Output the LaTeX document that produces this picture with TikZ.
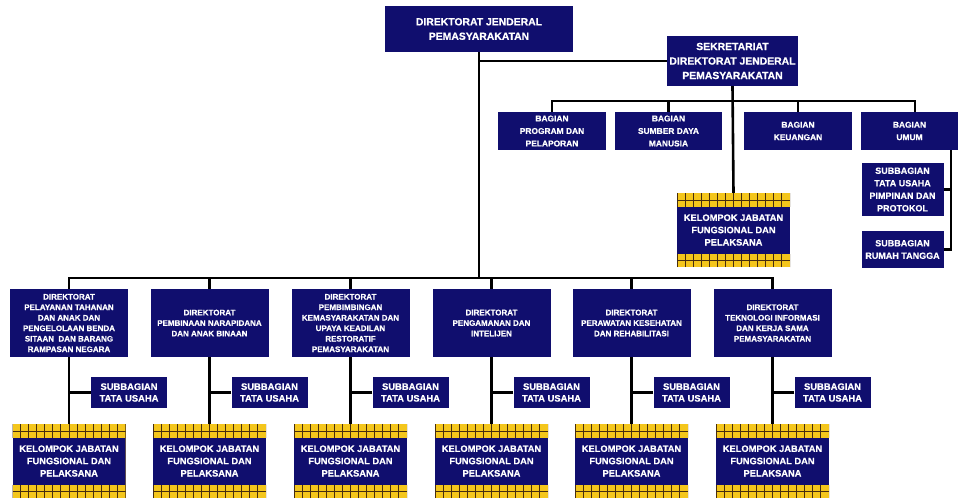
\documentclass[tikz,border=0pt]{standalone}
\usepackage{fontspec}
\setmainfont{Liberation Sans}[BoldFont={Liberation Sans Bold}, BoldFeatures={FakeBold=0.6}]
\usetikzlibrary{calc}
\definecolor{navy}{RGB}{16,14,110}
\definecolor{kyellow}{RGB}{244,198,28}
\definecolor{kline}{RGB}{70,45,15}
\tikzset{
  conn/.style={line width=2.6pt, black},
  navybox/.style={fill=navy, text=white, align=center, inner sep=0pt, font=\bfseries},
  topbox/.style={navybox, font=\fontsize{10.4}{14.5}\selectfont\bfseries},
  bagbox/.style={navybox, minimum width=108pt, minimum height=38pt, font=\fontsize{8.4}{12.5}\selectfont\bfseries},
  umsub/.style={navybox, minimum width=82pt, font=\fontsize{9}{12.5}\selectfont\bfseries},
  dirbox/.style={navybox, minimum width=118pt, minimum height=68pt, font=\fontsize{8}{10.5}\selectfont\bfseries},
  tubox/.style={navybox, minimum width=76pt, minimum height=31pt, font=\fontsize{9.4}{11.7}\selectfont\bfseries},
  kjfbox/.style={fill=kyellow, text=white, align=center, inner sep=0pt,
    minimum width=113pt, minimum height=74pt,
    font=\fontsize{9.3}{12.3}\selectfont\bfseries,
    path picture={
      \coordinate (nw) at (path picture bounding box.north west);
      \coordinate (ne) at (path picture bounding box.north east);
      \coordinate (sw) at (path picture bounding box.south west);
      \coordinate (se) at (path picture bounding box.south east);
      \foreach \i in {0,...,14} {
        \draw[kline, line width=1pt] ($(nw)!\i/14!(ne)$) -- ++(0,-14pt);
        \draw[kline, line width=1pt] ($(sw)!\i/14!(se)$) -- ++(0,13pt);
      }
      \draw[kline, line width=1pt] ($(nw)+(0,-7pt)$) -- ($(ne)+(0,-7pt)$);
      \draw[kline, line width=1pt] ($(sw)+(0,6.5pt)$) -- ($(se)+(0,6.5pt)$);
      \fill[navy] ($(nw)+(0,-14pt)$) rectangle ($(se)+(0,13pt)$);
    }},
}
\begin{document}
\begin{tikzpicture}[x=1pt,y=-1pt]
\useasboundingbox[fill=white] (0,0) rectangle (959,499);

% top level
\node[topbox, minimum width=188pt, minimum height=46pt] (top) at (479,29) {DIREKTORAT JENDERAL\\PEMASYARAKATAN};
\node[topbox, minimum width=131pt, minimum height=50pt] (sek) at (732.5,61) {SEKRETARIAT\\DIREKTORAT JENDERAL\\PEMASYARAKATAN};

% bagian
\node[bagbox] (bprog) at (552,131) {BAGIAN\\PROGRAM DAN\\PELAPORAN};
\node[bagbox, minimum width=107pt] (bsdm) at (668.5,131) {BAGIAN\\SUMBER DAYA\\MANUSIA};
\node[bagbox] (bkeu) at (798,131) {BAGIAN\\KEUANGAN};
\node[bagbox, minimum width=97pt] (bumum) at (909.5,131) {BAGIAN\\UMUM};
\node[umsub, minimum height=53pt] (tup) at (902.5,189.5) {SUBBAGIAN\\TATA USAHA\\PIMPINAN DAN\\PROTOKOL};
\node[umsub, minimum height=37pt] (rt) at (902.5,249.5) {SUBBAGIAN\\RUMAH TANGGA};
\node[kjfbox] (kjft) at (733.5,230) {KELOMPOK JABATAN\\FUNGSIONAL DAN\\PELAKSANA};

\coordinate (bagbar) at (0,101);
\coordinate (umtop) at (915,112);
\coordinate (umside) at (951,150);
\coordinate (mainjoin) at (479,278);

% directorates
\node[dirbox] (d1) at (69,323) {DIREKTORAT\\PELAYANAN TAHANAN\\DAN ANAK DAN\\PENGELOLAAN BENDA\\SITAAN \ DAN BARANG\\RAMPASAN NEGARA};
\node[dirbox] (d2) at (209.5,323) {DIREKTORAT\\PEMBINAAN NARAPIDANA\\DAN ANAK BINAAN};
\node[dirbox] (d3) at (350.5,323) {DIREKTORAT\\PEMBIMBINGAN\\KEMASYARAKATAN DAN\\UPAYA KEADILAN\\RESTORATIF\\PEMASYARAKATAN};
\node[dirbox] (d4) at (491.5,323) {DIREKTORAT\\PENGAMANAN DAN\\INTELIJEN};
\node[dirbox] (d5) at (631.5,323) {DIREKTORAT\\PERAWATAN KESEHATAN\\DAN REHABILITASI};
\node[dirbox] (d6) at (772.5,323) {DIREKTORAT\\TEKNOLOGI INFORMASI\\DAN KERJA SAMA\\PEMASYARAKATAN};

\foreach \c [count=\i] in {69,209.5,350.5,491.5,631.5,772.5} {
  \node[tubox] (tu\i) at (\c+60,392.5) {SUBBAGIAN\\TATA USAHA};
  \node[kjfbox] (kj\i) at (\c,461) {KELOMPOK JABATAN\\FUNGSIONAL DAN\\PELAKSANA};
}

% connectors
\draw[conn] (top.south) -- (mainjoin);
\draw[conn] (sek.west) -- (sek.west -| top.south);
\draw[conn] (sek.south) -- (kjft.north);
\draw[conn] (bprog.north) |- (bagbar -| umtop) -- (umtop);
\draw[conn] (bsdm.north) -- (bsdm.north |- bagbar);
\draw[conn] (bkeu.north) -- (bkeu.north |- bagbar);
\draw[conn] (umside) |- (rt.east);
\draw[conn] (tup.east) -- (tup.east -| umside);

\draw[conn] (d1.north) |- (d6.north |- mainjoin) -- (d6.north);
\foreach \i in {2,3,4,5} {
  \draw[conn] (d\i.north) -- (d\i.north |- mainjoin);
}
\foreach \i in {1,...,6} {
  \draw[conn] (d\i.south) -- (kj\i.north);
  \draw[conn] (tu\i.west) -- (tu\i.west -| kj\i.north);
}
\end{tikzpicture}
\end{document}
